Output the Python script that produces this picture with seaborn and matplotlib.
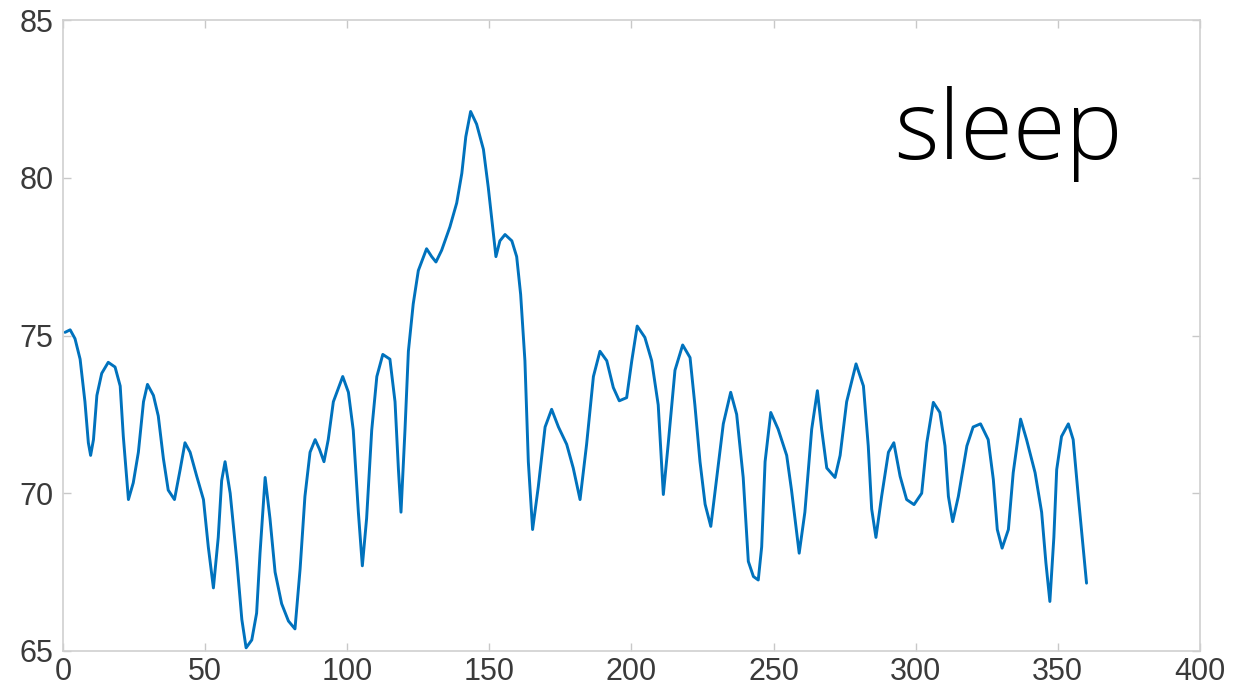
import matplotlib
matplotlib.use("Agg")
import matplotlib.pyplot as plt
import seaborn as sns
import pandas as pd

# Values
day = [0.7, 2.5, 4.2, 6.0, 7.7, 8.9, 9.7, 10.7, 11.9, 13.6, 15.9, 18.3, 20.1, 21.2, 23.0,
       24.7, 26.5, 28.3, 29.7, 31.8, 33.5, 35.3, 37.0, 39.2, 41.2, 42.9, 44.7, 47.0, 49.4,
       51.1, 52.9, 54.6, 55.8, 57.0, 58.8, 61.1, 62.9, 64.4, 66.4, 68.1, 69.3, 71.1, 72.8,
       74.6, 76.9, 79.3, 81.6, 83.4, 85.1, 86.9, 88.7, 90.2, 91.8, 93.3, 95.1, 98.4, 100.4,
       102.1, 103.9, 105.3, 106.8, 108.6, 110.4, 112.5, 115.0, 116.8, 118.0, 118.9, 120.3,
       121.5, 123.2, 125.0, 127.9, 129.7, 131.2, 133.2, 136.1, 138.5, 140.3, 141.7, 143.4,
       145.5, 147.9, 149.6, 152.3, 153.7, 155.5, 157.9, 159.6, 161.0, 162.5, 163.7, 165.2,
       167.2, 169.6, 171.9, 174.3, 177.2, 179.5, 181.9, 184.2, 186.6, 188.9, 191.3, 193.6,
       195.7, 198.3, 200.1, 202.0, 204.7, 207.1, 209.4, 211.2, 212.9, 215.3, 218.0, 220.6,
       222.3, 224.1, 225.9, 227.9, 230.0, 232.3, 234.9, 237.0, 239.3, 241.1, 242.9, 244.6,
       245.8, 247.0, 249.0, 251.6, 254.6, 256.3, 259.0, 261.0, 263.4, 265.4, 266.9, 268.7,
       271.6, 273.4, 275.7, 279.0, 281.6, 283.3, 284.5, 286.0, 288.0, 290.4, 292.3, 294.5,
       296.8, 299.4, 302.1, 303.9, 306.2, 308.5, 310.3, 311.5, 313.0, 315.0, 318.0, 320.2,
       322.8, 325.5, 327.3, 328.7, 330.4, 332.6, 334.3, 336.9, 339.0, 342.0, 344.3, 345.8,
       347.2, 348.6, 349.6, 351.3, 353.7, 355.4, 357.2, 360.1]
value = [75.10, 75.18, 74.90, 74.25, 72.90, 71.60, 71.20, 71.70, 73.10, 73.80, 74.15, 74.00,
         73.40, 71.80, 69.80, 70.33, 71.30, 72.90, 73.45, 73.10, 72.45, 71.10, 70.10, 69.80,
         70.75, 71.60, 71.30, 70.55, 69.80, 68.30, 67.00, 68.60, 70.40, 71.00, 70.00, 67.90,
         66.00, 65.10, 65.35, 66.20, 68.10, 70.50, 69.20, 67.50, 66.50, 65.95, 65.70, 67.60,
         69.90, 71.30, 71.70, 71.40, 71.00, 71.70, 72.90, 73.70, 73.20, 72.00, 69.40, 67.70,
         69.20, 72.00, 73.70, 74.40, 74.25, 72.90, 70.75, 69.40, 72.00, 74.50, 76.00, 77.06,
         77.75, 77.50, 77.33, 77.70, 78.44, 79.20, 80.14, 81.30, 82.10, 81.70, 80.90, 79.70,
         77.50, 78.00, 78.20, 78.00, 77.50, 76.30, 74.20, 71.00, 68.85, 70.20, 72.10, 72.66,
         72.10, 71.55, 70.80, 69.80, 71.55, 73.70, 74.50, 74.20, 73.35, 72.93, 73.03, 74.20,
         75.30, 74.94, 74.20, 72.80, 69.96, 71.55, 73.90, 74.70, 74.30, 72.80, 71.00, 69.65,
         68.95, 70.50, 72.20, 73.20, 72.50, 70.50, 67.84, 67.36, 67.25, 68.30, 71.00, 72.56,
         72.03, 71.20, 70.10, 68.10, 69.40, 72.03, 73.25, 72.03, 70.80, 70.50, 71.20, 72.90,
         74.10, 73.40, 71.50, 69.50, 68.60, 69.90, 71.30, 71.60, 70.54, 69.80, 69.64, 70.00,
         71.60, 72.88, 72.56, 71.50, 69.90, 69.10, 69.90, 71.50, 72.10, 72.20, 71.70, 70.44,
         68.85, 68.26, 68.85, 70.65, 72.35, 71.70, 70.65, 69.40, 67.80, 66.57, 68.60, 70.75,
         71.80, 72.20, 71.70, 69.90, 67.15]
x_ticks = [0, 50, 100, 150, 200, 250, 300, 350, 400]
y_ticks = [65, 70, 75, 80, 85]
label_text = "sleep"

df = pd.DataFrame({"day": day, "value": value})

sns.set_theme(style="white")
plt.rcParams["font.family"] = ["Liberation Sans", "DejaVu Sans"]

fig = plt.figure(figsize=(12.34, 6.97), dpi=100)
ax = fig.add_axes([0.0511, 0.066, 0.9213, 0.9053])

sns.lineplot(data=df, x="day", y="value", ax=ax, color="#0072BD",
             linewidth=2.1, estimator=None, sort=False)
for ln in ax.get_lines():
    ln.set_solid_joinstyle("round")
    ln.set_solid_capstyle("round")

ax.set_xlim(0, 400)
ax.set_ylim(65, 85)
ax.set_xticks(x_ticks)
ax.set_yticks(y_ticks)
ax.set_xticklabels([str(t) for t in x_ticks])
ax.set_yticklabels([str(t) for t in y_ticks])
ax.set_xlabel("")
ax.set_ylabel("")

for s in ax.spines.values():
    s.set_visible(True)
    s.set_color("#d0d0d0")
    s.set_linewidth(1.2)

ax.tick_params(axis="both", which="both", direction="in", length=6, width=1.0,
               color="#c8c8c8", labelsize=22, labelcolor="#3a3a3a",
               top=True, right=True, bottom=True, left=True)
ax.tick_params(axis="x", pad=4)
ax.tick_params(axis="y", pad=7)

ax.text(292.5, 80.6, label_text, fontsize=69, fontfamily=["Open Sans", "DejaVu Sans"],
        fontweight="light", color="black", ha="left", va="baseline")

fig.savefig("out.png", dpi=100, facecolor="white")
